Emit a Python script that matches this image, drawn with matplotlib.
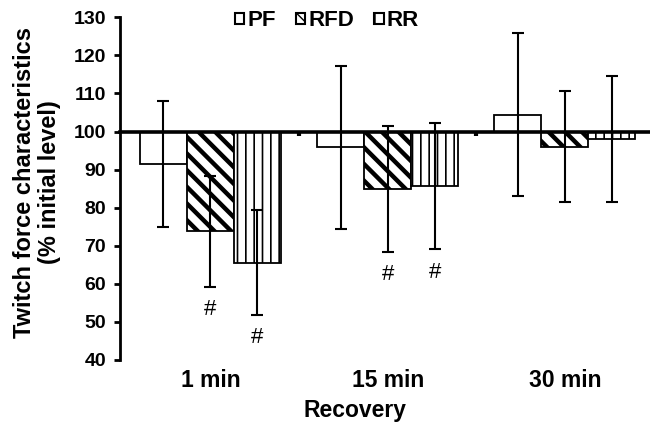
import numpy as np
import matplotlib
matplotlib.use("Agg")
import matplotlib.pyplot as plt
import matplotlib.transforms as mtransforms
from matplotlib.patches import Patch

plt.rcParams['font.family'] = ['Liberation Sans', 'DejaVu Sans']

categories = ['1 min', '15 min', '30 min']
series = ['PF', 'RFD', 'RR']
pf = [91.5, 95.8, 104.4]
rfd = [73.8, 84.9, 96.0]
rr = [65.5, 85.6, 98.0]
pf_err = [16.5, 21.5, 21.4]
rfd_err = [14.6, 16.6, 14.6]
rr_err = [13.8, 16.6, 16.6]
marks = {'RFD': [True, True, False], 'RR': [True, True, False]}
yticks = [40, 50, 60, 70, 80, 90, 100, 110, 120, 130]

fig = plt.figure(figsize=(6.5, 4.23), dpi=100)
ax = fig.add_axes([120 / 650, 1 - 359.5 / 423, 530 / 650, (359.5 - 17.5) / 423])

means = [pf, rfd, rr]
errs = [pf_err, rfd_err, rr_err]
hatches = ['', '\\\\', '||']
hlw = [1.0, 3.2, 1.2]
w = 0.265
x = np.arange(len(categories)) + 0.5
handles = []
for i, name in enumerate(series):
    pos = x + (i - 1) * w
    vals = np.array(means[i])
    bars = ax.bar(pos, vals - 100, width=w, bottom=100, color='white',
                  edgecolor='black', linewidth=1.3, hatch=hatches[i], zorder=2)
    for b in bars:
        if hasattr(b, 'set_hatch_linewidth'):
            b.set_hatch_linewidth(hlw[i])
    ax.errorbar(pos, vals, yerr=errs[i], fmt='none', ecolor='black',
                elinewidth=1.5, capsize=4, capthick=1.5, zorder=3)
    if name in marks:
        for j, m in enumerate(marks[name]):
            if m:
                ax.text(pos[j], vals[j] - errs[i][j] - 6, '#', ha='center', va='center',
                        fontsize=16, zorder=4)
    h = Patch(facecolor='white', edgecolor='black', linewidth=1.5,
              hatch=['', '\\\\', '|'][i], label=name)
    if hasattr(h, 'set_hatch_linewidth'):
        h.set_hatch_linewidth([1.0, 3.5, 1.5][i])
    handles.append(h)

ax.set_xlim(-0.01, 2.98)
ax.set_ylim(40, 130)
ax.set_yticks(yticks)
ax.tick_params(axis='y', direction='out', length=4, width=2, pad=6, labelsize=14)
for lab in ax.get_yticklabels():
    lab.set_fontweight('bold')

ax.spines['top'].set_visible(False)
ax.spines['right'].set_visible(False)
ax.spines['left'].set_linewidth(2)
ax.spines['bottom'].set_position(('data', 100))
ax.spines['bottom'].set_linewidth(2.6)
ax.spines['bottom'].set_zorder(5)
ax.set_xticks([1, 2])
ax.set_xticklabels([])
ax.tick_params(axis='x', direction='out', length=3, width=3)

trans = mtransforms.blended_transform_factory(ax.transData, ax.transAxes)
for xi, c in zip(x, categories):
    ax.text(xi, -0.080, c, transform=trans, ha='center', va='baseline',
            fontsize=16.5, fontweight='bold')
fig.text(355 / 650, 1 - 417 / 423, 'Recovery', ha='center', va='baseline',
         fontsize=16.5, fontweight='bold')

fig.text(37 / 650, 1 - 182 / 423, 'Twitch force characteristics\n(% initial level)',
         rotation=90, ha='center', va='center', fontsize=17, fontweight='bold',
         linespacing=1.15)

leg = fig.legend(handles=handles, loc='center', bbox_to_anchor=(327 / 650, 1 - 21 / 423),
                 ncol=3, frameon=False, handlelength=0.42, handleheight=0.42,
                 handletextpad=0.15, columnspacing=0.9, borderpad=0,
                 prop={'weight': 'bold', 'size': 16})

fig.savefig('out.png', dpi=100)
